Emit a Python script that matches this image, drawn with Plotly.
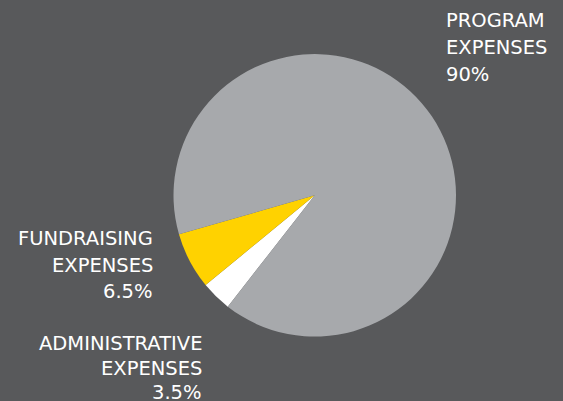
import plotly.graph_objects as go

# Data
categories = ["Administrative Expenses", "Fundraising Expenses", "Program Expenses"]
values = [3.5, 6.5, 90]
label_lines = {
    "Program Expenses": ["PROGRAM", "EXPENSES", "90%"],
    "Fundraising Expenses": ["FUNDRAISING", "EXPENSES", "6.5%"],
    "Administrative Expenses": ["ADMINISTRATIVE", "EXPENSES", "3.5%"],
}

# Styles
W, H = 563, 401
BG = "#58595b"
slice_colors = ["#ffffff", "#ffd200", "#a7a9ac"]
FONT = "DejaVu Sans"
FSIZE = 19.5

fig = go.Figure()
fig.add_trace(go.Pie(
    labels=categories,
    values=values,
    sort=False,
    direction="clockwise",
    rotation=218,
    marker=dict(colors=slice_colors, line=dict(width=0)),
    textinfo="none",
    hoverinfo="label+percent",
    showlegend=False,
    domain=dict(x=[173.5 / W, 456 / W], y=[1 - 336.7 / H, 1 - 54 / H]),
))

# label placement (pixel anchors: x, first line middle y, line step, anchor)
placements = {
    "Program Expenses": (445, 20.5, 27, "left"),
    "Fundraising Expenses": (154, 238.5, 26.5, "right"),
    "Administrative Expenses": (203, 343.5, 24.5, "right"),
}
for cat in categories:
    px, py, step, anchor = placements[cat]
    for i, line in enumerate(label_lines[cat]):
        fig.add_annotation(
            x=px / W, y=1 - (py + i * step) / H,
            xref="paper", yref="paper",
            xanchor=anchor, yanchor="middle",
            text=line, showarrow=False,
            align=anchor,
            font=dict(family=FONT, size=FSIZE, color="#ffffff"),
            borderpad=0,
        )

fig.update_layout(
    width=W, height=H,
    margin=dict(l=0, r=0, t=0, b=0),
    paper_bgcolor=BG,
    plot_bgcolor=BG,
)

fig.write_html(
    "out.html",
    config={"displayModeBar": False},
    post_script="document.body.style.margin='0';document.body.style.background='%s';" % BG,
)
